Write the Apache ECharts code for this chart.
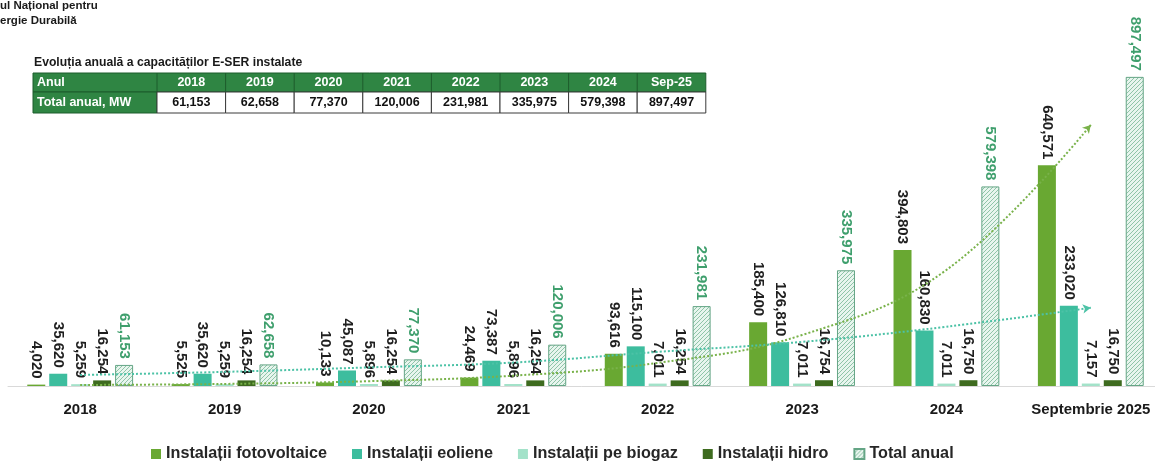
<!DOCTYPE html>
<html>
<head>
<meta charset="utf-8">
<script src="https://cdn.jsdelivr.net/npm/echarts@6/dist/echarts.min.js"></script>
<style>
html,body{margin:0;padding:0;background:#fff;}
#chart{width:1155px;height:461px;}
</style>
</head>
<body>
<div id="chart"></div>
<script>
// ---- data ----
const categories = ['2018', '2019', '2020', '2021', '2022', '2023', '2024', 'Septembrie 2025'];
const pvValues = [4020, 5525, 10133, 24469, 93616, 185400, 394803, 640571];
const windValues = [35620, 35620, 45087, 73387, 115100, 126810, 160830, 233020];
const biogasValues = [5259, 5259, 5896, 5896, 7011, 7011, 7011, 7157];
const hydroValues = [16254, 16254, 16254, 16254, 16254, 16754, 16750, 16750];
const totalValues = [61153, 62658, 77370, 120006, 231981, 335975, 579398, 897497];
// trend lines (value at each category centre)
const pvTrend = [3000, 6000, 14000, 30000, 67000, 148000, 337000, 758000];
const windTrend = [32000, 41000, 54000, 68000, 99000, 128000, 172000, 227000];
// table
const tableTitle = 'Evoluția anuală a capacităților E-SER instalate';
const tableHeaderLabel = 'Anul';
const tableRowLabel = 'Total anual, MW';
const tableYears = ['2018', '2019', '2020', '2021', '2022', '2023', '2024', 'Sep-25'];
const tableTotals = [61153, 62658, 77370, 120006, 231981, 335975, 579398, 897497];
const seriesNames = ['Instalații fotovoltaice', 'Instalații eoliene', 'Instalații pe biogaz', 'Instalații hidro', 'Total anual'];
const headerLines = ['ul Național pentru', 'ergie Durabilă'];

const fmt = v => v.toLocaleString('en-US');
const FONT = 'Liberation Sans, Arial, sans-serif';

// hatch pattern
function makeHatch() {
  const s = 4;
  const c = document.createElement('canvas');
  c.width = s; c.height = s;
  const g = c.getContext('2d');
  g.fillStyle = '#e8f5ee';
  g.fillRect(0, 0, s, s);
  g.strokeStyle = '#8fc4a8';
  g.lineWidth = 1;
  g.beginPath();
  g.moveTo(0, s); g.lineTo(s, 0);
  g.moveTo(-1, 1); g.lineTo(1, -1);
  g.moveTo(s - 1, s + 1); g.lineTo(s + 1, s - 1);
  g.stroke();
  return c;
}
const hatch = { image: makeHatch(), repeat: 'repeat' };

const labelBase = {
  show: true,
  position: 'top',
  rotate: -90,
  align: 'right',
  verticalAlign: 'middle',
  distance: 6,
  fontFamily: FONT,
  fontWeight: 'bold',
  fontSize: 15,
  color: '#1f1f1f',
  formatter: p => fmt(p.value)
};

function barSeries(name, data, color, extra) {
  return Object.assign({
    name: name,
    type: 'bar',
    data: data,
    barWidth: 18,
    barGap: '22%',
    itemStyle: { color: color },
    label: Object.assign({}, labelBase),
    z: 2
  }, extra || {});
}

// table graphic
const tX = 33, tY = 73, c0 = 124, cw = 68.6, rh1 = 19, rh2 = 21;
const tableEls = [];
tableEls.push({ type: 'text', x: tX + 1, y: 63, style: { text: tableTitle, font: 'bold 12.2px ' + FONT, fill: '#1a1a1a', textVerticalAlign: 'middle' } });
tableEls.push({ type: 'rect', shape: { x: tX, y: tY, width: c0 + cw * tableYears.length, height: rh1 }, style: { fill: '#2f8543', stroke: '#1d5c2c', lineWidth: 1 } });
tableEls.push({ type: 'rect', shape: { x: tX, y: tY + rh1, width: c0, height: rh2 }, style: { fill: '#2f8543', stroke: '#1d5c2c', lineWidth: 1 } });
tableEls.push({ type: 'text', x: tX + 4, y: tY + rh1 / 2, style: { text: tableHeaderLabel, font: 'bold 12.5px ' + FONT, fill: '#ffffff', textVerticalAlign: 'middle' } });
tableEls.push({ type: 'text', x: tX + 4, y: tY + rh1 + rh2 / 2, style: { text: tableRowLabel, font: 'bold 12.5px ' + FONT, fill: '#ffffff', textVerticalAlign: 'middle' } });
tableYears.forEach((y, i) => {
  const x0 = tX + c0 + cw * i;
  tableEls.push({ type: 'line', shape: { x1: x0, y1: tY, x2: x0, y2: tY + rh1 }, style: { stroke: '#1d5c2c', lineWidth: 1 } });
  tableEls.push({ type: 'text', x: x0 + cw / 2, y: tY + rh1 / 2, style: { text: y, font: 'bold 12.5px ' + FONT, fill: '#ffffff', textAlign: 'center', textVerticalAlign: 'middle' } });
  tableEls.push({ type: 'rect', shape: { x: x0, y: tY + rh1, width: cw, height: rh2 }, style: { fill: '#ffffff', stroke: '#3a3a3a', lineWidth: 1 } });
  tableEls.push({ type: 'text', x: x0 + cw / 2, y: tY + rh1 + rh2 / 2, style: { text: fmt(tableTotals[i]), font: 'bold 12.5px ' + FONT, fill: '#111111', textAlign: 'center', textVerticalAlign: 'middle' } });
});
headerLines.forEach((t, i) => {
  tableEls.push({ type: 'text', x: 0, y: 6 + 15 * i, style: { text: t, font: 'bold 11.5px ' + FONT, fill: '#1a1a1a', textVerticalAlign: 'middle' } });
});

const chart = echarts.init(document.getElementById('chart'), null, { renderer: 'canvas' });
chart.setOption({
  animation: false,
  backgroundColor: '#ffffff',
  grid: { left: 8, width: 1155, top: 76, bottom: 75, containLabel: false, outerBoundsMode: 'none' },
  legend: {
    data: seriesNames,
    left: 146,
    top: 440,
    itemWidth: 10,
    itemHeight: 10,
    itemGap: 25,
    icon: 'rect',
    textStyle: { fontFamily: FONT, fontWeight: 'bold', fontSize: 16.2, lineHeight: 18, color: '#262626' }
  },
  xAxis: {
    type: 'category',
    data: categories,
    axisLine: { lineStyle: { color: '#d9d9d9', width: 1 } },
    axisTick: { show: false },
    axisLabel: { interval: 0, margin: 16, fontFamily: FONT, fontWeight: 'bold', fontSize: 15, color: '#1a1a1a' }
  },
  yAxis: { type: 'value', min: 0, max: 900000, show: false, splitLine: { show: false } },
  graphic: tableEls,
  series: [
    barSeries(seriesNames[0], pvValues, '#69a832'),
    barSeries(seriesNames[1], windValues, '#3dbd9e'),
    barSeries(seriesNames[2], biogasValues, '#a3e2c9'),
    barSeries(seriesNames[3], hydroValues, '#3e6b1f'),
    barSeries(seriesNames[4], totalValues, hatch, {
      itemStyle: { color: hatch, borderColor: '#64a585', borderWidth: 1 },
      label: Object.assign({}, labelBase, { color: '#3f9f6d' })
    }),
    {
      name: 'pvTrend', type: 'line', smooth: 0.4, z: 5,
      data: pvTrend.map((v, i) => i === pvTrend.length - 1 ? { value: v, symbol: 'arrow', symbolSize: [7, 8], symbolRotate: -42 } : { value: v, symbol: 'none' }),
      lineStyle: { type: 'dotted', width: 2, color: '#79b24a' },
      itemStyle: { color: '#79b24a' },
      showSymbol: true,
      silent: true
    },
    {
      name: 'windTrend', type: 'line', smooth: 0.4, z: 5,
      data: windTrend.map((v, i) => i === windTrend.length - 1 ? { value: v, symbol: 'arrow', symbolSize: [7, 8], symbolRotate: -82 } : { value: v, symbol: 'none' }),
      lineStyle: { type: 'dotted', width: 2, color: '#4cc2a6' },
      itemStyle: { color: '#4cc2a6' },
      showSymbol: true,
      silent: true
    }
  ]
});
</script>
</body>
</html>
